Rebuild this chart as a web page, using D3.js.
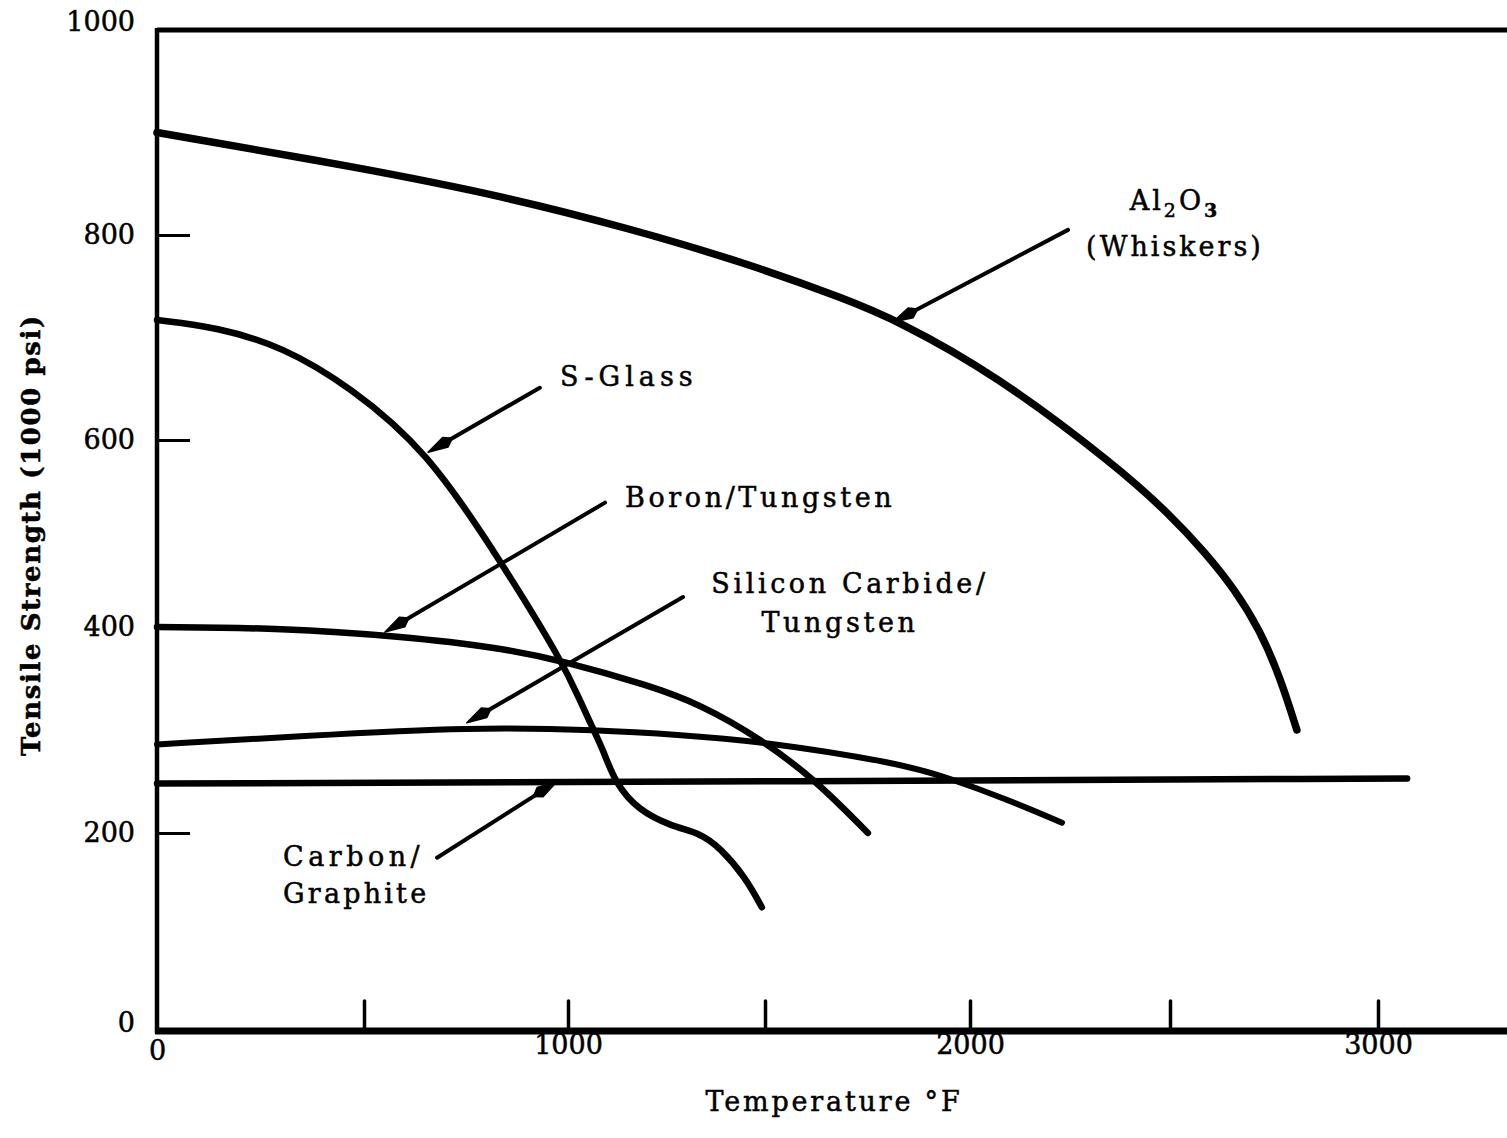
<!DOCTYPE html>
<html><head><meta charset="utf-8">
<script src="https://cdn.jsdelivr.net/npm/d3@7"></script>
<style>
html,body{margin:0;padding:0;background:#fff;}
svg{display:block;}
text{font-family:"DejaVu Serif","Liberation Serif",serif;fill:#000;stroke:#000;stroke-width:0.5px;}
</style></head><body>
<svg id="chart" width="1507" height="1138"></svg>
<script>
// ---- data (temperature °F, tensile strength 1000 psi) ----
const xTicks = [0, 500, 1000, 1500, 2000, 2500, 3000];
const xTickLabels = ["0", "", "1000", "", "2000", "", "3000"];
const yTicks = [0, 200, 400, 600, 800, 1000];
const yTickLabels = ["0", "200", "400", "600", "800", "1000"];

const al2o3Temp     = [0, 500, 850, 1150, 1450, 1700, 1820, 2060, 2370, 2500, 2584, 2656, 2716, 2764, 2805];
const al2o3Strength = [900, 865, 837, 807, 773, 737, 717, 665, 571, 520, 480, 440, 397, 352, 300];

const sglassTemp     = [0, 145, 304, 466, 654, 833, 988, 1030, 1061, 1089, 1119, 1178, 1266, 1335, 1386, 1449, 1492];
const sglassStrength = [717, 710, 691, 652, 589, 472, 365, 329, 303, 281, 249, 222, 206, 200, 185, 156, 125];

const boronTemp     = [0, 304, 588, 833, 988, 1208, 1335, 1487, 1622, 1751];
const boronStrength = [400, 399, 391, 380, 367, 343, 325, 292, 252, 200];

const sicTemp     = [0, 345, 767, 1081, 1292, 1470, 1829, 1951, 2090, 2230];
const sicStrength = [286, 294, 303, 300, 295, 290, 268, 253, 233, 210];

const carbonTemp     = [0, 1500, 3070];
const carbonStrength = [248, 250, 253];

// annotation arrows: tail -> tip, in data units
const arrowNames = ["Al2O3", "S-Glass", "Boron/Tungsten", "Silicon Carbide/Tungsten", "Carbon/Graphite"];
const arrowTailT = [2245, 931, 1094, 1292, 679];
const arrowTailS = [805, 651, 533, 432, 175];
const arrowTipT  = [1812, 657, 551, 752, 973];
const arrowTipS  = [715, 587, 395, 307, 250];

// ---- drawing ----
const svg = d3.select("#chart");
const x = d3.scaleLinear().domain(xTicks).range([157, 364, 568, 765, 970, 1170, 1378]);
const y = d3.scaleLinear().domain(yTicks).range([1031, 833, 627, 440, 235, 30]);
const xRightEdge = 3330;

// frame lines
svg.append("line").attr("x1", x(0)).attr("x2", x(xRightEdge)).attr("y1", y(1000)).attr("y2", y(1000))
  .attr("stroke", "#000").attr("stroke-width", 5);
svg.append("line").attr("x1", x(0) - 2).attr("x2", x(xRightEdge)).attr("y1", y(0)).attr("y2", y(0))
  .attr("stroke", "#000").attr("stroke-width", 7);
svg.append("line").attr("x1", x(0)).attr("x2", x(0)).attr("y1", y(1000) - 2).attr("y2", y(0) + 2)
  .attr("stroke", "#000").attr("stroke-width", 4.5);

// x axis ticks (inward)
const xAxis = d3.axisBottom(x).tickValues(xTicks)
  .tickFormat((d, i) => xTickLabels[i]).tickSizeInner(-30).tickSizeOuter(0).tickPadding(3);
const gx = svg.append("g").attr("transform", `translate(0,${y(0)})`).call(xAxis);
gx.select(".domain").remove();
gx.selectAll(".tick line").attr("stroke", "#000").attr("stroke-width", 3.5)
  .attr("stroke-linecap", "round")
  .filter(d => d === 0).remove();
gx.selectAll(".tick text").attr("font-size", 27).attr("font-family", "DejaVu Serif")
  .attr("fill", "#000").attr("dy", d => d === 0 ? "0.95em" : "0.75em");

// y axis ticks (inward)
const yAxis = d3.axisLeft(y).tickValues(yTicks)
  .tickFormat((d, i) => yTickLabels[i]).tickSizeInner(-33).tickSizeOuter(0).tickPadding(22);
const gy = svg.append("g").attr("transform", `translate(${x(0)},0)`).call(yAxis);
gy.select(".domain").remove();
gy.selectAll(".tick line").attr("stroke", "#000").attr("stroke-width", 3)
  .filter(d => d === 0 || d === 1000).remove();
gy.selectAll(".tick text").attr("font-size", 27).attr("font-family", "DejaVu Serif")
  .attr("fill", "#000")
  .attr("dy", d => (d === 0 || d === 1000) ? "0.0em" : "0.32em");

// curves
const line = d3.line().x(d => x(d[0])).y(d => y(d[1])).curve(d3.curveBasis);
const series = [
  {t: al2o3Temp, s: al2o3Strength, w: 7.5},
  {t: sglassTemp, s: sglassStrength, w: 6.5},
  {t: boronTemp, s: boronStrength, w: 6.5},
  {t: sicTemp, s: sicStrength, w: 6},
  {t: carbonTemp, s: carbonStrength, w: 6.5}
];
series.forEach(sr => {
  svg.append("path").datum(d3.zip(sr.t, sr.s)).attr("d", line)
    .attr("fill", "none").attr("stroke", "#000").attr("stroke-width", sr.w)
    .attr("stroke-linecap", "round").attr("stroke-linejoin", "round");
});

// arrows
arrowNames.forEach((n, i) => {
  const x1 = x(arrowTailT[i]), y1 = y(arrowTailS[i]);
  const x2 = x(arrowTipT[i]), y2 = y(arrowTipS[i]);
  const dx = x2 - x1, dy = y2 - y1, L = Math.hypot(dx, dy);
  const ux = dx / L, uy = dy / L, px = -uy, py = ux;
  svg.append("line").attr("x1", x1).attr("y1", y1).attr("x2", x2 - ux * 10).attr("y2", y2 - uy * 10)
    .attr("stroke", "#000").attr("stroke-width", 4).attr("stroke-linecap", "round");
  const b1 = 20, b2 = 28, w = 5.5;
  const pts = [
    [x2, y2],
    [x2 - ux * b1 + px * w, y2 - uy * b1 + py * w],
    [x2 - ux * b2, y2 - uy * b2],
    [x2 - ux * b1 - px * w, y2 - uy * b1 - py * w]
  ];
  svg.append("path").attr("d", "M" + pts.map(p => p.join(",")).join("L") + "Z")
    .attr("fill", "#000").attr("stroke", "#000").attr("stroke-width", 1.5).attr("stroke-linejoin", "round");
});

// labels
function label(txt, lx, ly, anchor, ls) {
  return svg.append("text").attr("x", lx).attr("y", ly).attr("text-anchor", anchor || "start")
    .attr("font-size", 27).attr("letter-spacing", ls == null ? 3.6 : ls).text(txt);
}
const al = svg.append("text").attr("x", 1175).attr("y", 210).attr("text-anchor", "middle")
  .attr("font-size", 27).attr("letter-spacing", 3);
al.append("tspan").text("Al");
al.append("tspan").attr("font-size", 19).attr("dy", 7).text("2");
al.append("tspan").attr("dy", -7).text("O");
al.append("tspan").attr("font-size", 19).attr("dy", 7).attr("font-weight", "bold").text("3");
label("(Whiskers)", 1175, 256, "middle", 3);
label("S-Glass", 560, 386, "start", 5);
label("Boron/Tungsten", 625, 507);
label("Silicon Carbide/", 850, 593, "middle");
label("Tungsten", 840, 632, "middle");
label("Carbon/", 283, 866, "start", 4.5);
label("Graphite", 283, 903, "start", 3.2);

// axis titles
svg.append("text").attr("x", 834).attr("y", 1111).attr("text-anchor", "middle")
  .attr("font-size", 27).attr("letter-spacing", 2.8).text("Temperature °F");
svg.append("text").attr("transform", "translate(40,535) rotate(-90)").attr("text-anchor", "middle")
  .attr("font-size", 26).attr("font-weight", "bold").attr("letter-spacing", 1.6).text("Tensile Strength (1000 psi)");
</script>
</body></html>
